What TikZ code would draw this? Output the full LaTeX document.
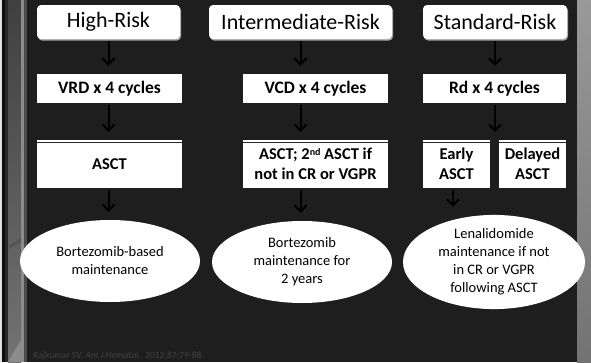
\documentclass[tikz,border=0pt]{standalone}
\usepackage{fontspec}
\setmainfont{Carlito}
\usetikzlibrary{shapes.geometric,arrows.meta,calc}

\definecolor{panel}{RGB}{30,30,30}
\definecolor{edgedark}{RGB}{40,40,40}
\definecolor{footgray}{RGB}{66,66,66}

\newcommand{\supsm}[1]{\raisebox{0.55ex}{\fontsize{10}{10}\selectfont #1}}

\begin{document}
\begin{tikzpicture}[x=1pt,y=-1pt,
  riskbox/.style={rounded corners=4pt, fill=white, inner sep=0pt,
    minimum height=34pt, font=\fontsize{22}{26}\selectfont},
  stepbox/.style={fill=white, inner sep=0pt, minimum height=29pt,
    font=\bfseries\fontsize{17.5}{20}\selectfont},
  asctbox/.style={fill=white, inner sep=0pt, minimum height=48pt, align=center,
    font=\bfseries\fontsize{16.5}{20}\selectfont},
  maint/.style={ellipse, fill=white, inner sep=0pt, minimum width=180pt,
    minimum height=82pt, align=center, font=\fontsize{14.5}{18}\selectfont},
  arr/.style={draw=black, line width=2pt, shorten <=2pt, shorten >=8pt,
    -{Straight Barb[length=6pt,width=12pt]}},
  topline/.style={draw=black!85, line width=0.8pt},
  shadow/.style={rounded corners=4pt, fill=black!35}]

  % frame and background
  \useasboundingbox (0,0) rectangle (591,362);
  \fill[panel] (0,0) rectangle (591,362);
  \fill[black!12] (0,0) rectangle (1.5,362);
  \fill[black!95] (1.5,0) rectangle (5,362);
  \fill[edgedark] (5,0) rectangle (21,362);
  \shade[top color=black!75, bottom color=black!55] (8,0) rectangle (21,362);
  \fill[black!45] (21,0) rectangle (24,362);
  \fill[black!70] (24,0) rectangle (27,362);
  \fill[black!45] (8,362) -- (21,340) -- (21,362) -- cycle;
  \fill[black!70, opacity=0.5] (9,75) -- (21,68) -- (21,72) -- (9,79) -- cycle;
  \fill[black!70, opacity=0.5] (9,245) -- (21,238) -- (21,242) -- (9,249) -- cycle;
  \shade[top color=black!40, bottom color=black!55] (577,0) rectangle (591,362);

  % risk headers
  \fill[shadow] (38,6.5) rectangle (181,40.5);
  \fill[shadow] (210,6.5) rectangle (393,40.5);
  \fill[shadow] (424,6.5) rectangle (568,40.5);
  \node[riskbox, minimum width=143pt] (h1) at (108.5,22) {High-Risk};
  \node[riskbox, minimum width=183pt] (h2) at (300.5,22) {Intermediate-Risk};
  \node[riskbox, minimum width=144pt] (h3) at (495,22) {Standard-Risk};

  % induction
  \node[stepbox, minimum width=145pt] (s1) at (109.5,88.5) {VRD x 4 cycles};
  \node[stepbox, minimum width=145pt] (s2) at (315.5,88.5) {VCD x 4 cycles};
  \node[stepbox, minimum width=143pt] (s3) at (494.5,88.5) {Rd x 4 cycles};

  % transplant
  \node[asctbox, minimum width=145pt] (a1) at (109.5,164) {ASCT};
  \node[asctbox, minimum width=145pt] (a2) at (315.5,164) {ASCT; 2\supsm{nd} ASCT if\\not in CR or VGPR};
  \node[asctbox, minimum width=67pt] (a3e) at (456.5,164) {Early\\ASCT};
  \node[asctbox, minimum width=67pt] (a3d) at (532.5,164) {Delayed\\ASCT};
  \foreach \n in {a1,a2,a3e,a3d}
    \draw[topline] ([yshift=-2.5pt]\n.north west) -- ([yshift=-2.5pt]\n.north east);

  % maintenance
  \node[maint] (m1) at (110,261) {Bortezomib-based\\maintenance};
  \node[maint] (m2) at (302,262) {Bortezomib\\maintenance for\\2 years};
  \node[maint, minimum width=182pt] (m3) at (494,262) {Lenalidomide\\maintenance if not\\in CR or VGPR\\following ASCT};

  % connectors
  \draw[arr] (h1.south) -- (h1.south |- s1.north);
  \draw[arr] (s1.south -| h1.south) -- (a1.north -| h1.south);
  \draw[arr] (a1.south -| h1.south) -- (m1.north -| h1.south);
  \draw[arr] (h2.south) -- (h2.south |- s2.north);
  \draw[arr] (s2.south -| h2.south) -- (a2.north -| h2.south);
  \draw[arr] (a2.south -| h2.south) -- (m2.north -| h2.south);
  \draw[arr] (h3.south) -- (h3.south |- s3.north);
  \coordinate (gap) at (h3.south |- a3e.north);
  \draw[arr] (s3.south -| h3.south) -- (gap);
  \draw[arr] ([xshift=-3.5pt]a3e.south) -- ([xshift=-3.5pt]a3e.south |- m3.north);

  % reference
  \node[anchor=base west, inner sep=0pt, text=footgray, font=\fontsize{9.5}{11}\selectfont] (ref) at (33,358)
    {Rajkumar SV. \textit{Am J Hematol}.~~2012;87:79-88.};
\end{tikzpicture}
\end{document}
